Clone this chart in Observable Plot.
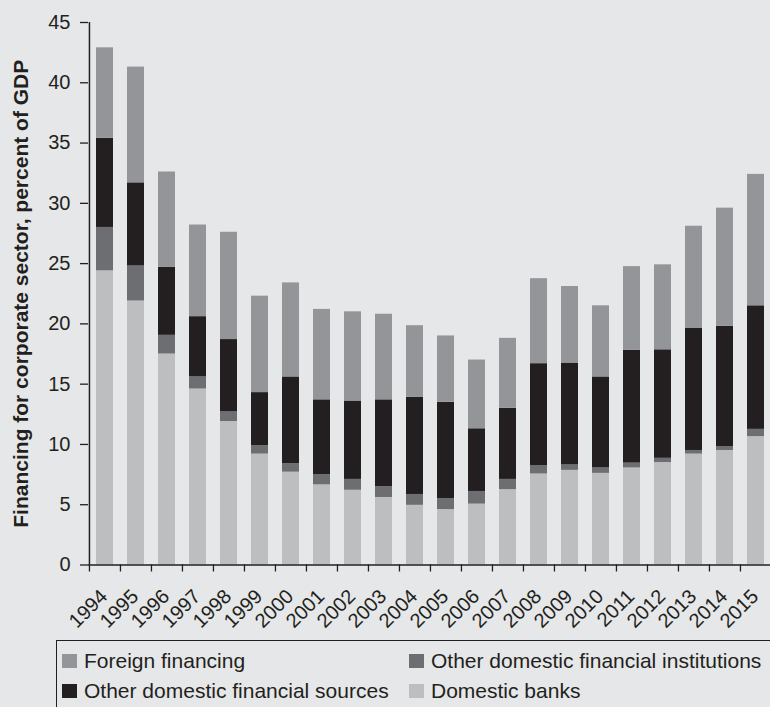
<!DOCTYPE html>
<html>
<head>
<meta charset="utf-8">
<script src="https://cdn.jsdelivr.net/npm/d3@7"></script>
<script src="https://cdn.jsdelivr.net/npm/@observablehq/plot@0.6"></script>
<style>
  html, body { margin: 0; padding: 0; background: #e6e7e8; overflow: hidden; }
  body { width: 770px; height: 707px; font-family: "Liberation Sans", Arial, Helvetica, sans-serif; color: #231f20; }
  #chart svg { display: block; }
  #legend {
    position: absolute; left: 56px; top: 640px; width: 760px; height: 80px;
    border: 1.3px solid #231f20; box-sizing: border-box;
    display: grid; grid-template-columns: 347px 400px; grid-auto-rows: 30px;
    padding: 5px 0 0 5px; font-size: 21px;
  }
  .item { display: flex; align-items: center; white-space: nowrap; }
  .sw { width: 15px; height: 14px; margin-right: 7px; flex: none; }
</style>
</head>
<body>
<div id="chart"></div>
<div id="legend"></div>
<script>
const years = ["1994","1995","1996","1997","1998","1999","2000","2001","2002","2003","2004",
               "2005","2006","2007","2008","2009","2010","2011","2012","2013","2014","2015"];
const domesticBanks      = [24.4, 21.9, 17.5, 14.6, 11.9, 9.2, 7.7, 6.65, 6.2, 5.6, 4.95, 4.6, 5.05, 6.25, 7.55, 7.85, 7.6, 8.05, 8.5, 9.2, 9.5, 10.65];
const otherInstitutions  = [3.6, 2.9, 1.55, 1.0, 0.8, 0.7, 0.7, 0.85, 0.9, 0.9, 0.9, 0.9, 1.05, 0.85, 0.7, 0.45, 0.45, 0.4, 0.35, 0.3, 0.3, 0.6];
const otherSources       = [7.4, 6.9, 5.65, 5.0, 6.0, 4.4, 7.2, 6.2, 6.5, 7.2, 8.05, 8.0, 5.2, 5.9, 8.45, 8.45, 7.55, 9.35, 9.0, 10.15, 10.0, 10.25];
const foreignFinancing   = [7.5, 9.6, 7.9, 7.6, 8.9, 8.0, 7.8, 7.5, 7.4, 7.1, 5.95, 5.5, 5.7, 5.8, 7.05, 6.35, 5.9, 6.95, 7.05, 8.45, 9.8, 10.9];

const seriesNames  = ["Domestic banks", "Other domestic financial institutions", "Other domestic financial sources", "Foreign financing"];
const seriesColors = ["#bcbec0", "#6d6e71", "#231f20", "#939598"];
const seriesValues = [domesticBanks, otherInstitutions, otherSources, foreignFinancing];
const legendOrder  = ["Foreign financing", "Other domestic financial institutions", "Other domestic financial sources", "Domestic banks"];
const yTicks = [0, 5, 10, 15, 20, 25, 30, 35, 40, 45];
const yTitle = "Financing for corporate sector, percent of GDP";

const table = [];
years.forEach((yr, i) => {
  seriesNames.forEach((s, k) => table.push({year: yr, series: s, value: seriesValues[k][i]}));
});

const W = 770, H = 640, mL = 88, mR = -2;
const step = (W - mR - mL) / years.length;

const plot = Plot.plot({
  width: W, height: H,
  marginTop: 22, marginLeft: mL, marginRight: mR, marginBottom: 75.5,
  style: {background: "transparent", fontFamily: "'Liberation Sans', Arial, sans-serif", color: "#231f20", overflow: "visible"},
  x: {domain: years, paddingInner: 0.45, paddingOuter: 0.225, label: null},
  y: {domain: [0, 45], label: null},
  color: {domain: seriesNames, range: seriesColors},
  marks: [
    Plot.barY(table, {x: "year", y: "value", fill: "series", order: seriesNames}),
    Plot.ruleY([0], {stroke: "#231f20", strokeWidth: 1.5}),
    Plot.ruleX([years[0]], {y1: 0, y2: 45, dx: -step / 2, stroke: "#231f20", strokeWidth: 1.5}),
    Plot.axisY({ticks: yTicks, tickSize: 8, tickPadding: 10, fontSize: 20, strokeWidth: 1.3, label: null}),
    Plot.text([yTitle], {frameAnchor: "left", textAnchor: "middle", dx: -67, rotate: -90, fontSize: 21, fontWeight: "bold", fill: "#231f20"}),
    Plot.axisX({tickSize: 7, dx: -step / 2, fill: "none", strokeWidth: 1.3, label: null}),
    Plot.axisX({tickSize: 0, tickRotate: -45, fontSize: 20, tickPadding: 22, dx: -1, dy: 6, label: null})
  ]
});
document.getElementById("chart").appendChild(plot);

const legend = document.getElementById("legend");
legendOrder.forEach(name => {
  const it = document.createElement("div");
  it.className = "item";
  const sw = document.createElement("span");
  sw.className = "sw";
  sw.style.background = seriesColors[seriesNames.indexOf(name)];
  it.appendChild(sw);
  it.appendChild(document.createTextNode(name));
  legend.appendChild(it);
});
</script>
</body>
</html>
